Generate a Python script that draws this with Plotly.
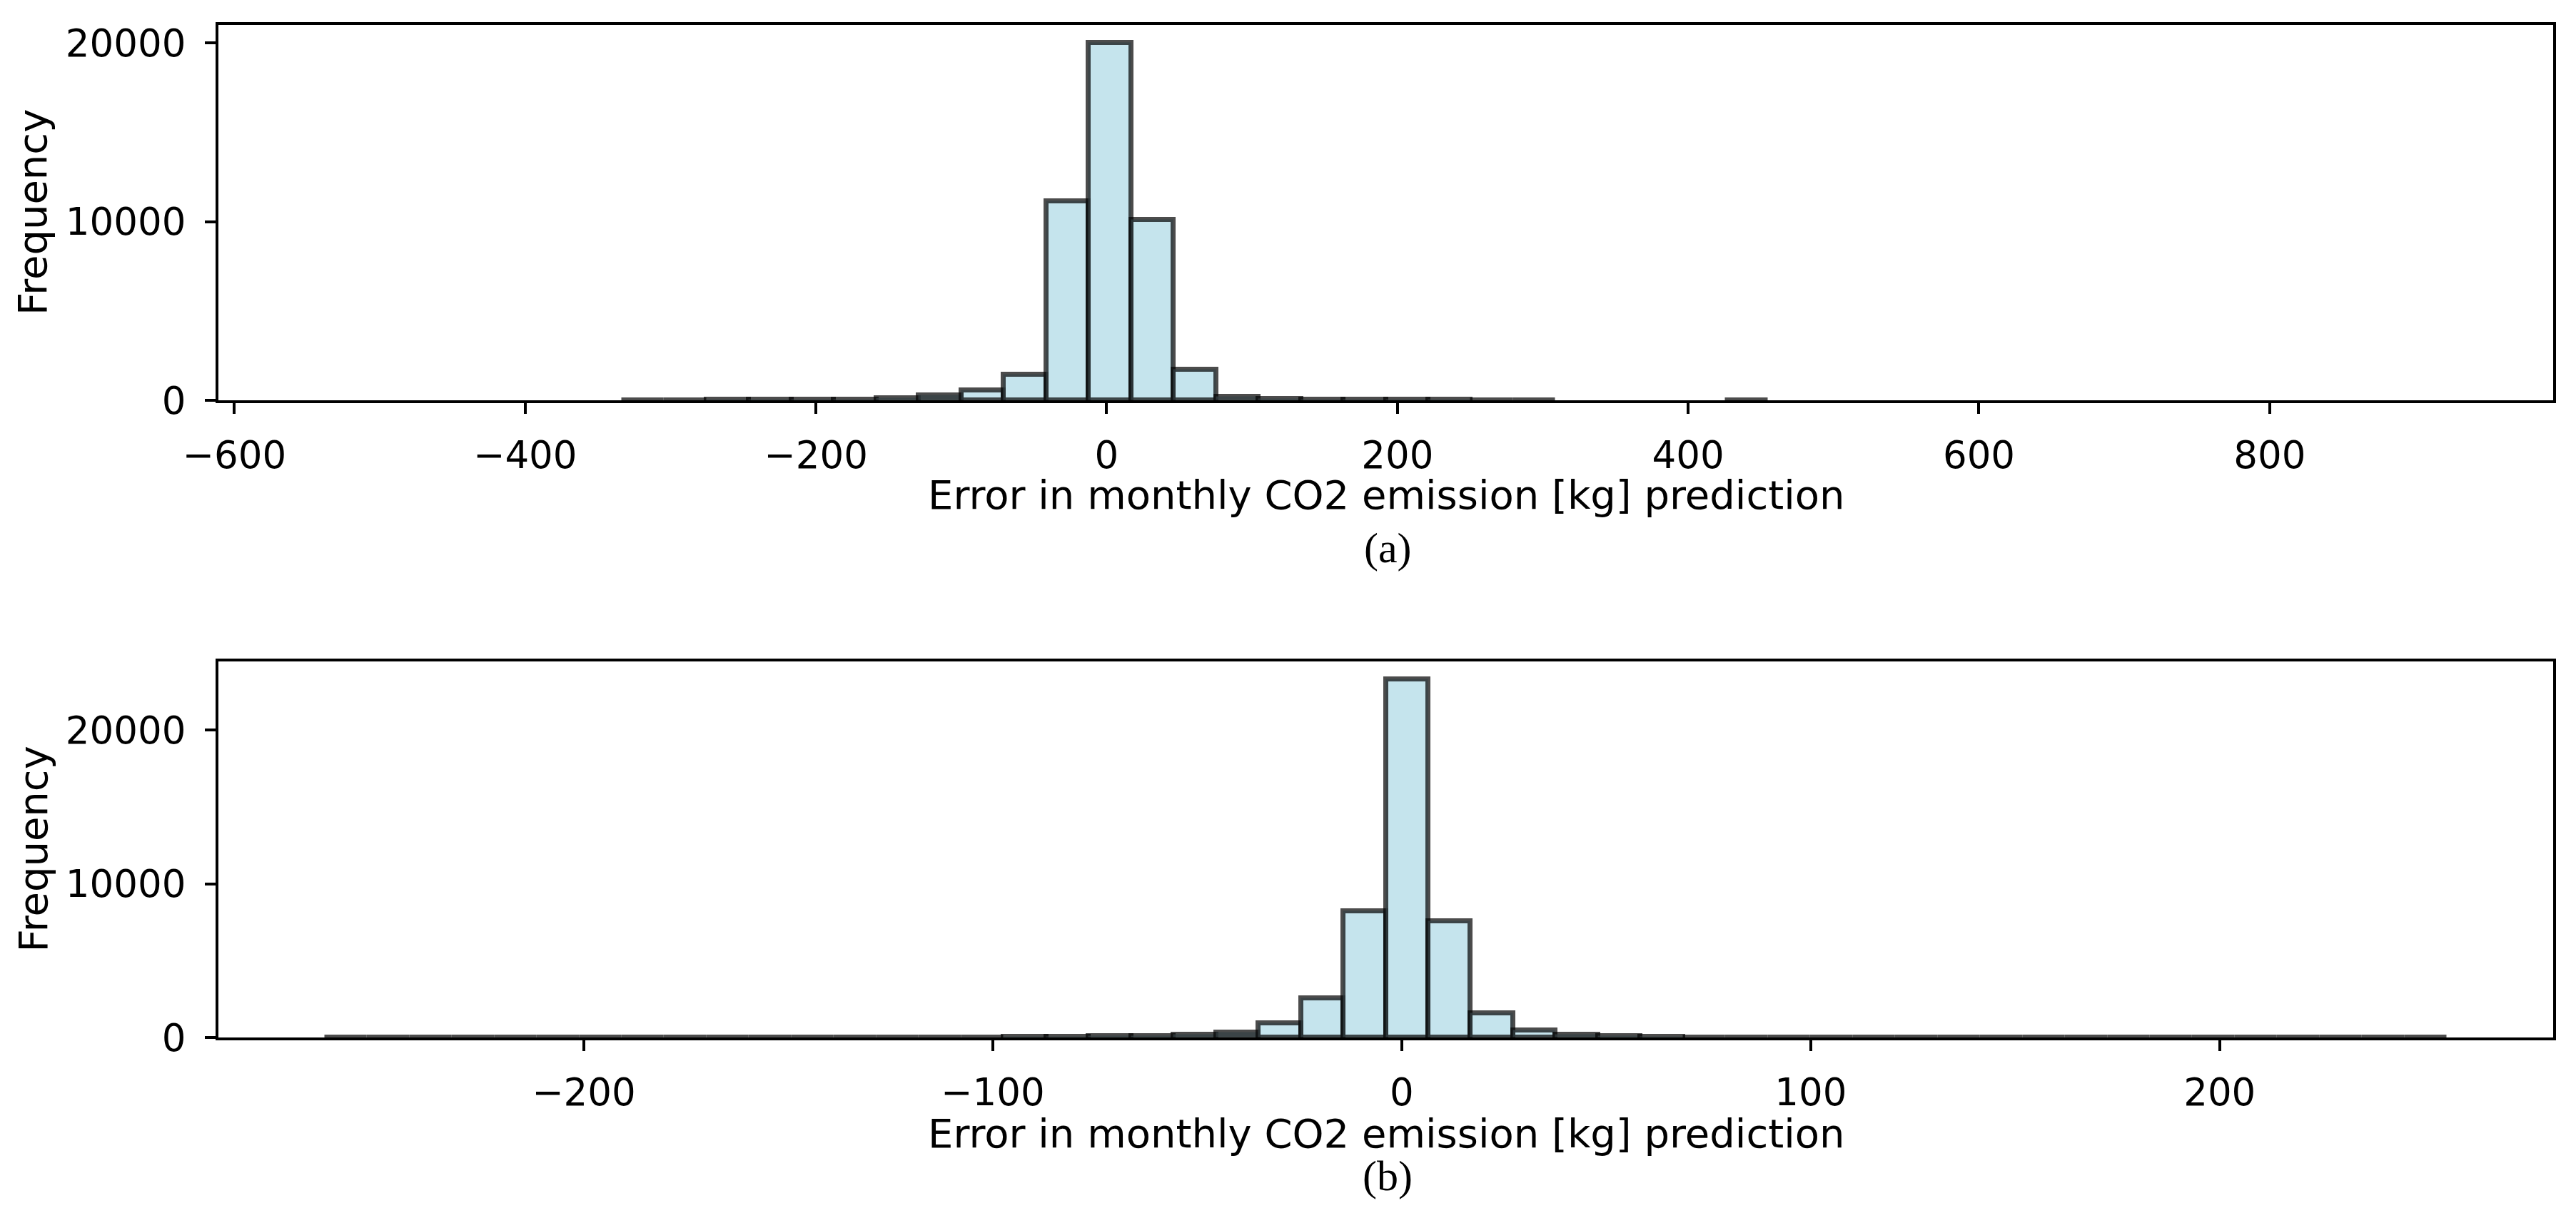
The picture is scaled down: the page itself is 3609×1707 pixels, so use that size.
import numpy as np
import plotly.graph_objects as go

# ---------------- data ----------------
# Panel (a): 50 histogram bins
a_bin_start = -538.0
a_bin_width = 29.2
a_counts = [0, 0, 0, 0, 0, 0, 0, 20, 20, 25,
            25, 45, 55, 120, 260, 560, 1430, 11120, 20000, 10090,
            1700, 210, 80, 45, 35, 30, 25, 20, 20, 0,
            0, 0, 0, 20, 0, 0, 0, 0, 0, 0,
            0, 0, 0, 0, 0, 0, 0, 0, 0, 0]

# Panel (b): 50 histogram bins
b_bin_start = -263.4
b_bin_width = 10.38
b_counts = [15, 15, 15, 15, 15, 15, 15, 15, 15, 15,
            15, 15, 20, 20, 20, 20, 25, 30, 70, 80,
            200, 330, 950, 2570, 8240, 23300, 7560, 1590, 450, 200,
            90, 25, 20, 20, 20, 20, 20, 15, 15, 15,
            15, 15, 15, 15, 15, 15, 15, 15, 15, 15]

a_xticks = [-600, -400, -200, 0, 200, 400, 600, 800]
b_xticks = [-200, -100, 0, 100, 200]
y_ticks = [0, 10000, 20000]

x_title = "Error in monthly CO2 emission [kg] prediction"
y_title = "Frequency"
captions = ["(a)", "(b)"]

# ---------------- figure ----------------
W, H = 3609, 1707
FONT = "DejaVu Sans"
TICK_FS = 53
LABEL_FS = 56
EDGE_W = 7

fill = "rgba(173,216,230,0.7)"
edge = "rgba(0,0,0,0.7)"

def centers(start, width, n):
    return start + width * (np.arange(n) + 0.5)

def edge_widths(counts):
    # empty bins draw no outline (as in a histogram)
    return [EDGE_W if c > 0 else 0 for c in counts]

fig = go.Figure()
fig.add_trace(go.Bar(
    x=centers(a_bin_start, a_bin_width, len(a_counts)), y=a_counts,
    width=a_bin_width,
    marker=dict(color=fill, line=dict(color=edge, width=edge_widths(a_counts))),
    xaxis="x", yaxis="y", showlegend=False, hoverinfo="skip"))
fig.add_trace(go.Bar(
    x=centers(b_bin_start, b_bin_width, len(b_counts)), y=b_counts,
    width=b_bin_width,
    marker=dict(color=fill, line=dict(color=edge, width=edge_widths(b_counts))),
    xaxis="x2", yaxis="y2", showlegend=False, hoverinfo="skip"))

def xrange_for(start, width, n):
    lo, hi = start, start + width * n
    m = 0.05 * (hi - lo)
    return [lo - m, hi + m]

x_dom = [306 / W, 3577 / W]
ya_dom = [1 - 561 / H, 1 - 35 / H]
yb_dom = [1 - 1454 / H, 1 - 927 / H]

axis_common = dict(showline=True, mirror=True, linecolor="black", linewidth=4,
                   ticks="outside", ticklen=15, tickwidth=4, tickcolor="black",
                   showgrid=False, zeroline=False, automargin=False,
                   tickfont=dict(family=FONT, size=TICK_FS, color="black"))

fig.update_layout(
    width=W, height=H, autosize=False,
    margin=dict(l=0, r=0, t=0, b=0, pad=0),
    paper_bgcolor="white", plot_bgcolor="white",
    bargap=0, barmode="overlay",
    xaxis=dict(domain=x_dom, anchor="y", range=xrange_for(a_bin_start, a_bin_width, len(a_counts)),
               tickmode="array", tickvals=a_xticks, ticklabelstandoff=12, **axis_common),
    yaxis=dict(domain=ya_dom, anchor="x", range=[0, max(a_counts) * 1.05],
               tickmode="array", tickvals=y_ticks, ticktext=[str(v) for v in y_ticks],
               ticklabelstandoff=16, **axis_common),
    xaxis2=dict(domain=x_dom, anchor="y2", range=xrange_for(b_bin_start, b_bin_width, len(b_counts)),
                tickmode="array", tickvals=b_xticks, ticklabelstandoff=12, **axis_common),
    yaxis2=dict(domain=yb_dom, anchor="x2", range=[0, max(b_counts) * 1.05],
                tickmode="array", tickvals=y_ticks, ticktext=[str(v) for v in y_ticks],
                ticklabelstandoff=16, **axis_common),
)

xc = (x_dom[0] + x_dom[1]) / 2
ann = []
for yl, ymid in [(1 - 694 / H, (ya_dom[0] + ya_dom[1]) / 2),
                 (1 - 1588 / H, (yb_dom[0] + yb_dom[1]) / 2)]:
    ann.append(dict(x=xc, y=yl, xref="paper", yref="paper", text=x_title, showarrow=False,
                    xanchor="center", yanchor="middle",
                    font=dict(family=FONT, size=LABEL_FS, color="black")))
    ann.append(dict(x=46 / W, y=ymid, xref="paper", yref="paper", text=y_title, showarrow=False,
                    textangle=-90, xanchor="center", yanchor="middle",
                    font=dict(family=FONT, size=LABEL_FS, color="black")))
ann.append(dict(x=1944 / W, y=1 - 768 / H, xref="paper", yref="paper", text=captions[0], showarrow=False,
                xanchor="center", yanchor="middle", font=dict(family="Liberation Serif", size=60, color="black")))
ann.append(dict(x=1944 / W, y=1 - 1648 / H, xref="paper", yref="paper", text=captions[1], showarrow=False,
                xanchor="center", yanchor="middle", font=dict(family="Liberation Serif", size=60, color="black")))
fig.update_layout(annotations=ann)

fig.write_html("out.html", config={"displayModeBar": False},
               post_script="document.body.style.margin='0';document.body.style.overflow='hidden';")
